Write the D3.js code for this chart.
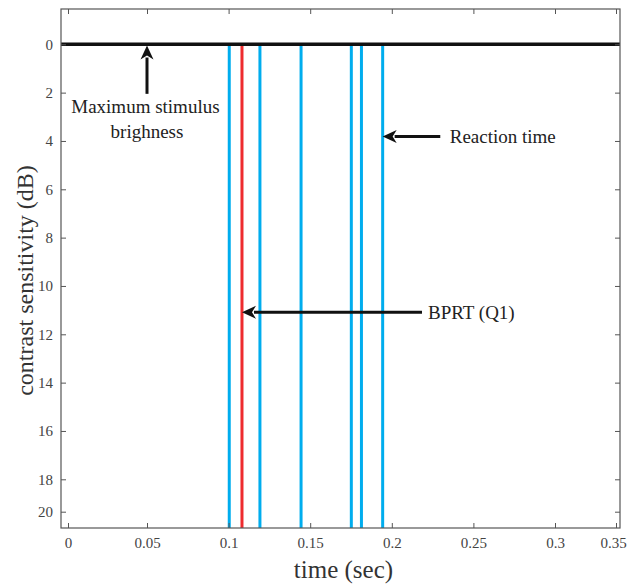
<!DOCTYPE html>
<html>
<head>
<meta charset="utf-8">
<script src="https://cdn.jsdelivr.net/npm/d3@7"></script>
<style>
  body { margin: 0; background: #fff; }
  text { font-family: "Liberation Serif", "Times New Roman", serif; }
</style>
</head>
<body>
<div id="chart"></div>
<script>
// data
let xTicks = [0, 0.05, 0.1, 0.15, 0.2, 0.25, 0.3, 0.35];
let yTicks = [0, 2, 4, 6, 8, 10, 12, 14, 16, 18, 20];
let reactionTimes = [0.1004, 0.1192, 0.1444, 0.1752, 0.1814, 0.1944];
let bprtTimes = [0.1082];
let maxStimulus = [0];

let svgWidth = 628;
let svgHeight = 584;

// plot frame (pixels)
let frame = { left: 61, right: 620, top: 9, bottom: 528 };

let svg = d3.select("#chart").append("svg")
  .attr("width", svgWidth)
  .attr("height", svgHeight);

// the figure's axes are slightly uneven at the ends, so piecewise scales
let xScale = d3.scaleLinear()
  .domain([0, 0.05, 0.3, 0.35])
  .range([68, 147, 555, 616]);

let yScale = d3.scaleLinear()
  .domain([0, 18, 20])
  .range([44.3, 479.3, 511.7]);

let axisColor = "#555";

// reaction time lines
let lineTop = yScale(0);
svg.append("g").selectAll("line.rt")
  .data(reactionTimes)
  .enter()
  .append("line")
  .classed("rt", true)
  .attr("x1", d => xScale(d))
  .attr("x2", d => xScale(d))
  .attr("y1", lineTop)
  .attr("y2", frame.bottom)
  .attr("stroke", "#00adee")
  .attr("stroke-width", 3);

// BPRT line
svg.append("g").selectAll("line.bprt")
  .data(bprtTimes)
  .enter()
  .append("line")
  .classed("bprt", true)
  .attr("x1", d => xScale(d))
  .attr("x2", d => xScale(d))
  .attr("y1", lineTop)
  .attr("y2", frame.bottom)
  .attr("stroke", "#ee2b2e")
  .attr("stroke-width", 3);

// max stimulus line
svg.append("g").selectAll("line.stim")
  .data(maxStimulus)
  .enter()
  .append("line")
  .attr("x1", frame.left)
  .attr("x2", frame.right)
  .attr("y1", d => yScale(d))
  .attr("y2", d => yScale(d))
  .attr("stroke", "#111")
  .attr("stroke-width", 3.5);

// axes, MATLAB style box with inward ticks
let tickLen = 5;
let bottomAxis = d3.axisBottom(xScale).tickValues(xTicks)
  .tickFormat(d3.format("")).tickSizeInner(-tickLen).tickSizeOuter(0).tickPadding(9);
let topAxis = d3.axisTop(xScale).tickValues(xTicks)
  .tickFormat("").tickSizeInner(-tickLen).tickSizeOuter(0);
let leftAxis = d3.axisLeft(yScale).tickValues(yTicks)
  .tickFormat(d3.format("")).tickSizeInner(-tickLen).tickSizeOuter(0).tickPadding(8);
let rightAxis = d3.axisRight(yScale).tickValues(yTicks)
  .tickFormat("").tickSizeInner(-tickLen).tickSizeOuter(0);

function styleAxis(g) {
  g.select(".domain").remove();
  g.selectAll(".tick line").attr("stroke", axisColor);
  g.selectAll(".tick text")
    .attr("fill", "#444")
    .attr("font-size", "15px");
}

let xAxisG = svg.append("g").attr("transform", `translate(0,${frame.bottom})`).call(bottomAxis).call(styleAxis);
// last label sits against the window edge in the original
xAxisG.selectAll(".tick text").filter(d => d === 0.35).attr("dx", -3);
svg.append("g").attr("transform", `translate(0,${frame.top})`).call(topAxis).call(styleAxis);
svg.append("g").attr("transform", `translate(${frame.left},0)`).call(leftAxis).call(styleAxis);
svg.append("g").attr("transform", `translate(${frame.right},0)`).call(rightAxis).call(styleAxis);

// frame
svg.append("rect")
  .attr("x", frame.left)
  .attr("y", frame.top)
  .attr("width", frame.right - frame.left)
  .attr("height", frame.bottom - frame.top)
  .attr("fill", "none")
  .attr("stroke", axisColor)
  .attr("stroke-width", 1.2);

function arrow(x1, y1, x2, y2) {
  // tail at (x1,y1), head at (x2,y2), in data units
  let px1 = xScale(x1), py1 = yScale(y1), px2 = xScale(x2), py2 = yScale(y2);
  let len = Math.hypot(px2 - px1, py2 - py1);
  let ux = (px2 - px1) / len, uy = (py2 - py1) / len;
  let headLen = 12;
  svg.append("line")
    .attr("x1", px1).attr("y1", py1)
    .attr("x2", px2 - ux * headLen).attr("y2", py2 - uy * headLen)
    .attr("stroke", "#111")
    .attr("stroke-width", 3);
  // head drawn as polygon
  let nx = -uy, ny = ux;
  let w = 6.5;
  svg.append("path")
    .attr("d", `M${px2},${py2} L${px2 - ux * 14 + nx * w},${py2 - uy * 14 + ny * w} L${px2 - ux * 10},${py2 - uy * 10} L${px2 - ux * 14 - nx * w},${py2 - uy * 14 - ny * w} Z`)
    .attr("fill", "#111");
}

// annotations
arrow(0.05, 2.05, 0.05, 0.05);
svg.append("text")
  .attr("x", xScale(0.049)).attr("y", yScale(2.55))
  .attr("text-anchor", "middle").attr("dy", "0.35em")
  .attr("font-size", "19px").attr("fill", "#222")
  .text("Maximum stimulus");
svg.append("text")
  .attr("x", xScale(0.05)).attr("y", yScale(3.6))
  .attr("text-anchor", "middle").attr("dy", "0.35em")
  .attr("font-size", "19px").attr("fill", "#222")
  .text("brighness");

arrow(0.2297, 3.82, 0.1944, 3.82);
svg.append("text")
  .attr("x", xScale(0.2355)).attr("y", yScale(3.82))
  .attr("dy", "0.35em")
  .attr("font-size", "19px").attr("fill", "#222")
  .text("Reaction time");

arrow(0.2185, 11.09, 0.1082, 11.09);
svg.append("text")
  .attr("x", xScale(0.2222)).attr("y", yScale(11.09))
  .attr("dy", "0.35em")
  .attr("font-size", "19px").attr("fill", "#222")
  .text("BPRT (Q1)");

// axis titles
svg.append("text")
  .attr("x", (frame.left + frame.right) / 2 + 3)
  .attr("y", 578)
  .attr("text-anchor", "middle")
  .attr("font-size", "25px")
  .attr("fill", "#333")
  .text("time (sec)");

svg.append("text")
  .attr("transform", `translate(33,${(frame.top + frame.bottom) / 2 + 12}) rotate(-90)`)
  .attr("text-anchor", "middle")
  .attr("font-size", "24px")
  .attr("fill", "#333")
  .text("contrast sensitivity (dB)");
</script>
</body>
</html>
